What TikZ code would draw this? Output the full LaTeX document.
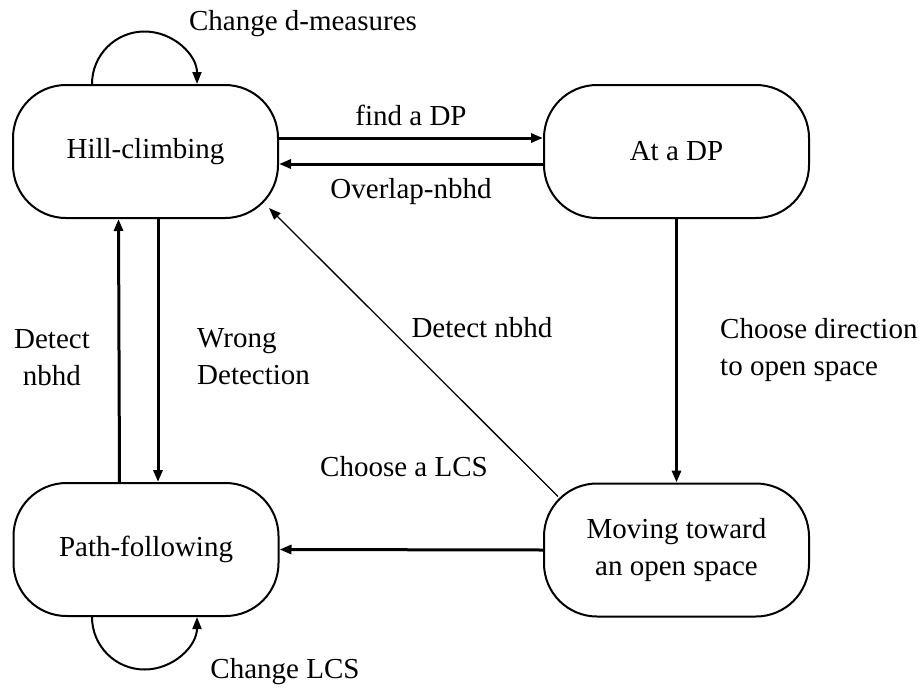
\documentclass[tikz,border=0pt]{standalone}
\usepackage{fontspec}
\setmainfont{Liberation Serif}
\usetikzlibrary{arrows.meta}
\tikzset{
  state/.style={draw, line width=2pt, rounded corners=53pt, minimum width=265pt, minimum height=133pt, align=center},
  trans/.style={line width=3pt, -{Triangle[length=12pt,width=9pt]}},
  loopy/.style={line width=2pt, -{Triangle[length=12pt,width=9pt]}},
  lbl/.style={inner sep=0pt}
}
\begin{document}
\begin{tikzpicture}[x=1pt,y=1pt,font=\fontsize{29}{37}\selectfont]
    \useasboundingbox (0,0) rectangle (922,-694);
    % states
    \node[state] (hill) at (145.5,-151.5) {Hill-climbing};
    \node[state] (dp) at (676.5,-151.5) {At a DP};
    \node[state] (path) at (146,-549.5) {Path-following};
    \node[state] (moving) at (676.5,-550) {Moving toward\\an open space};

    % transitions
    \draw[trans] ([yshift=13.5pt]hill.east) -- ([yshift=13.5pt]dp.west);
    \draw[trans] ([yshift=-12.5pt]dp.west) -- ([yshift=-12.5pt]hill.east);
    \draw[trans] ([xshift=-26.5pt]path.north) -- ([xshift=-27pt]hill.south);
    \draw[trans] ([xshift=12.5pt]hill.south) -- ([xshift=12pt]path.north);
    \draw[trans] (dp.south) -- (moving.north);
    \draw[trans] (moving.west) -- (path.east);
    \draw[line width=1.3pt, -{Triangle[length=12pt,width=9pt]}] ([xshift=15pt,yshift=-14pt]moving.north west) -- ([xshift=-10pt,yshift=11pt]hill.south east);

    % self loops
    \draw[loopy] ([xshift=-53.5pt]hill.north) arc[start angle=180, end angle=0, radius=52.5pt];
    \draw[loopy] ([xshift=-54pt]path.south) arc[start angle=180, end angle=360, radius=52.5pt];

    % labels
    \node[lbl] (cdm) at (303,-24) {Change d-measures};
    \node[lbl] (fdp) at (411,-115) {find a DP};
    \node[lbl] (ovl) at (411,-192) {Overlap-nbhd};
    \node[lbl, align=center] (dtl) at (52,-358) {Detect\\nbhd};
    \node[lbl, align=left, anchor=west] (wrd) at (197,-357) {Wrong\\ Detection};
    \node[lbl] (dtd) at (482,-328) {Detect nbhd};
    \node[lbl, align=left, anchor=west] (cdo) at (720,-350) {Choose direction\\to open space};
    \node[lbl] (cls) at (404,-467) {Choose a LCS};
    \node[lbl] (chl) at (285,-672) {Change LCS};
\end{tikzpicture}
\end{document}
